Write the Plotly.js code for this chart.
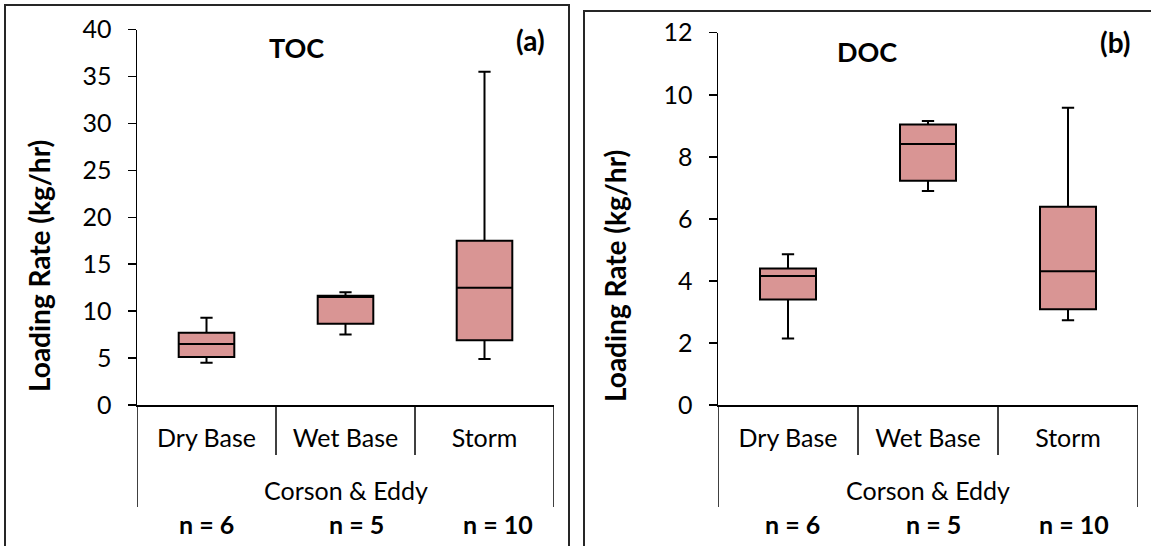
<!DOCTYPE html>
<html>
<head>
<meta charset="utf-8">
<script src="https://cdn.plot.ly/plotly-3.0.1.min.js"></script>
<style>html,body{margin:0;padding:0;background:#fff;}#chart{width:1151px;height:546px;}</style>
</head>
<body>
<div id="chart"></div>
<script>
// ---- data ----
const categories = ['Dry Base', 'Wet Base', 'Storm'];
const groupLabel = 'Corson & Eddy';
const nLabels = ['n = 6', 'n = 5', 'n = 10'];

const tocLow  = [4.5, 7.5, 4.9];
const tocQ1   = [5.1, 8.65, 6.9];
const tocMed  = [6.5, 11.5, 12.5];
const tocQ3   = [7.7, 11.65, 17.5];
const tocHigh = [9.3, 12.0, 35.5];

const docLow  = [2.14, 6.9, 2.73];
const docQ1   = [3.4, 7.23, 3.09];
const docMed  = [4.16, 8.41, 4.31];
const docQ3   = [4.4, 9.04, 6.39];
const docHigh = [4.86, 9.15, 9.58];

const panelTitles = ['TOC', 'DOC'];
const panelTags = ['(a)', '(b)'];
const yTitle = 'Loading Rate (kg/hr)';

// ---- style ----
const W = 1151, H = 546;
const FONT = 'Lato, "Open Sans", sans-serif';
const FILL = '#D99594';
const px = v => v / W;
const py = v => (H - v) / H;

function boxTrace(lo, q1, med, q3, hi, xa, ya) {
  return {
    type: 'box', x: categories, q1: q1, median: med, q3: q3,
    lowerfence: lo, upperfence: hi,
    fillcolor: FILL, line: {color: '#000', width: 2},
    whiskerwidth: 0.22, width: 0.4, boxpoints: false,
    hoverinfo: 'skip', showlegend: false, xaxis: xa, yaxis: ya
  };
}

const data = [
  boxTrace(tocLow, tocQ1, tocMed, tocQ3, tocHigh, 'x', 'y'),
  boxTrace(docLow, docQ1, docMed, docQ3, docHigh, 'x2', 'y2')
];

function xAxis(domain, anchor) {
  return {
    domain: domain, anchor: anchor, type: 'category', range: [-0.5, categories.length - 0.5],
    showline: true, linecolor: '#000', linewidth: 1.5, ticks: '',
    showgrid: false, zeroline: false, fixedrange: true,
    tickfont: {family: FONT, size: 25, color: '#000'}, ticklabelstandoff: 10
  };
}
function yAxis(domain, anchor, range, dtick) {
  return {
    domain: domain, anchor: anchor, range: range, dtick: dtick, tick0: 0,
    showline: true, linecolor: '#000', linewidth: 1.5,
    ticks: 'outside', ticklen: 8, tickwidth: 1.5, tickcolor: '#000',
    showgrid: false, zeroline: false, fixedrange: true,
    tickfont: {family: FONT, size: 25, color: '#000'}, ticklabelstandoff: 11
  };
}

const yBottom = py(405);
const shapes = [];
// category dividers below the axis (at category boundaries)
['x', 'x2'].forEach(xr => {
  for (let i = 0; i <= categories.length; i++) {
    const outer = (i === 0 || i === categories.length);
    shapes.push({type: 'line', xref: xr, yref: 'paper', x0: i - 0.5, x1: i - 0.5,
      y0: yBottom, y1: outer ? py(507) : py(455), line: {color: '#000', width: 1.5}});
  }
});
// panel borders
shapes.push({type: 'rect', xref: 'paper', yref: 'paper', x0: px(5), x1: px(569), y0: -0.2, y1: py(5),
  line: {color: '#262626', width: 2}, fillcolor: 'rgba(0,0,0,0)'});
shapes.push({type: 'rect', xref: 'paper', yref: 'paper', x0: px(584), x1: 1.2, y0: -0.2, y1: py(11),
  line: {color: '#262626', width: 2}, fillcolor: 'rgba(0,0,0,0)'});

const annotations = [];
const bold = (s) => ({family: FONT, size: s, color: '#000', weight: 'bold'});
// panel titles and tags
annotations.push({xref: 'paper', yref: 'paper', x: px(296), y: py(47), text: '<b>' + panelTitles[0] + '</b>', showarrow: false, font: bold(27), xanchor: 'center', yanchor: 'middle'});
annotations.push({xref: 'paper', yref: 'paper', x: px(867), y: py(51), text: '<b>' + panelTitles[1] + '</b>', showarrow: false, font: bold(27), xanchor: 'center', yanchor: 'middle'});
annotations.push({xref: 'paper', yref: 'paper', x: px(530), y: py(40), text: '<b>' + panelTags[0] + '</b>', showarrow: false, font: bold(28), xanchor: 'center', yanchor: 'middle'});
annotations.push({xref: 'paper', yref: 'paper', x: px(1115), y: py(42), text: '<b>' + panelTags[1] + '</b>', showarrow: false, font: bold(28), xanchor: 'center', yanchor: 'middle'});
// y titles
annotations.push({xref: 'paper', yref: 'paper', x: px(39), y: py(266), text: '<b>' + yTitle + '</b>', textangle: -90, showarrow: false, font: bold(28), xanchor: 'center', yanchor: 'middle'});
annotations.push({xref: 'paper', yref: 'paper', x: px(615), y: py(276), text: '<b>' + yTitle + '</b>', textangle: -90, showarrow: false, font: bold(28), xanchor: 'center', yanchor: 'middle'});
// group label
['x', 'x2'].forEach(xr => {
  annotations.push({xref: xr + ' domain', yref: 'paper', x: 0.5, y: py(490), text: groupLabel, showarrow: false,
    font: {family: FONT, size: 25, color: '#000'}, xanchor: 'center', yanchor: 'middle'});
});
// n labels
const nShiftL = [0, 11, 13], nShiftR = [4, 5, 6];
categories.forEach((c, i) => {
  annotations.push({xref: 'x', yref: 'paper', x: c, y: py(524), xshift: nShiftL[i], text: '<b>' + nLabels[i] + '</b>', showarrow: false, font: bold(25), xanchor: 'center', yanchor: 'middle'});
  annotations.push({xref: 'x2', yref: 'paper', x: c, y: py(524), xshift: nShiftR[i], text: '<b>' + nLabels[i] + '</b>', showarrow: false, font: bold(25), xanchor: 'center', yanchor: 'middle'});
});

const layout = {
  width: W, height: H, margin: {l: 0, r: 0, t: 0, b: 0},
  paper_bgcolor: '#fff', plot_bgcolor: 'rgba(0,0,0,0)',
  showlegend: false,
  xaxis: xAxis([px(137), px(554)], 'y'),
  yaxis: yAxis([py(405), py(29.5)], 'x', [0, 40], 5),
  xaxis2: xAxis([px(718), px(1138)], 'y2'),
  yaxis2: yAxis([py(405), py(32.7)], 'x2', [0, 12], 2),
  shapes: shapes, annotations: annotations,
  font: {family: FONT, color: '#000'}
};

Plotly.newPlot('chart', data, layout, {staticPlot: true, displayModeBar: false});
</script>
</body>
</html>
